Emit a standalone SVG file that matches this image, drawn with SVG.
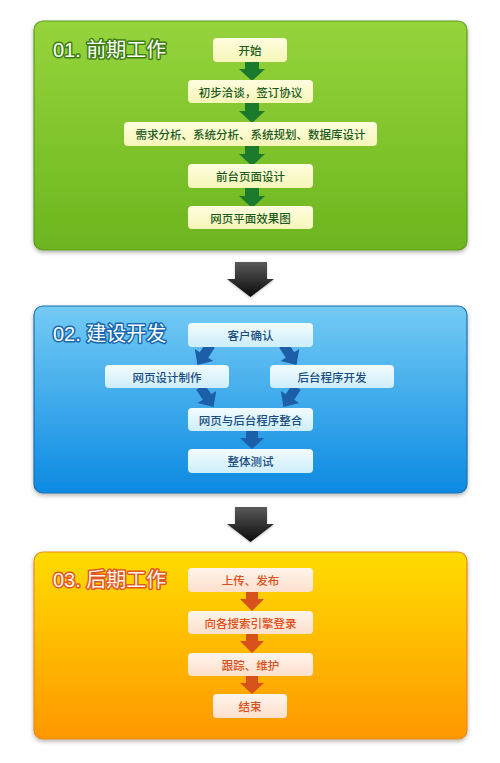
<svg xmlns="http://www.w3.org/2000/svg" width="500" height="763" viewBox="0 0 500 763">
<defs>
<linearGradient id="gGreen" x1="0" y1="0" x2="0" y2="1"><stop offset="0" stop-color="#96d43c"/><stop offset="1" stop-color="#6cb51f"/></linearGradient>
<linearGradient id="gBlue" x1="0" y1="0" x2="0" y2="1"><stop offset="0" stop-color="#74cbf4"/><stop offset="1" stop-color="#0c8ae2"/></linearGradient>
<linearGradient id="gOrange" x1="0" y1="0" x2="0" y2="1"><stop offset="0" stop-color="#ffdc00"/><stop offset="1" stop-color="#ff9800"/></linearGradient>
<linearGradient id="nGreen" x1="0" y1="0" x2="0" y2="1"><stop offset="0" stop-color="#ffffe0"/><stop offset="1" stop-color="#f6f5b8"/></linearGradient>
<linearGradient id="nBlue" x1="0" y1="0" x2="0" y2="1"><stop offset="0" stop-color="#f2fcff"/><stop offset="1" stop-color="#cdeefa"/></linearGradient>
<linearGradient id="nOrange" x1="0" y1="0" x2="0" y2="1"><stop offset="0" stop-color="#fff4ec"/><stop offset="1" stop-color="#fde0cc"/></linearGradient>
<linearGradient id="gBlack" x1="0" y1="0" x2="0" y2="1"><stop offset="0" stop-color="#5a5a5a"/><stop offset="1" stop-color="#0a0a0a"/></linearGradient>
<filter id="sh" x="-10%" y="-10%" width="120%" height="130%"><feDropShadow dx="0" dy="2" stdDeviation="2" flood-color="#000" flood-opacity="0.3"/></filter>
<filter id="shs" x="-20%" y="-20%" width="140%" height="160%"><feDropShadow dx="0" dy="1" stdDeviation="1" flood-color="#000" flood-opacity="0.25"/></filter>
</defs>
<style>
.title{font-family:"Liberation Sans","Noto Sans CJK SC",sans-serif;font-size:20px;fill:#ffffff;stroke-width:3px;paint-order:stroke;stroke-linejoin:round}
.t1{stroke:#3d7d12}
.t2{stroke:#1666b0}
.t3{stroke:#e2561c;fill:#fff2ea}
.nt{font-family:"Noto Sans CJK SC",sans-serif;font-size:11.5px;font-weight:500;text-anchor:middle;dominant-baseline:central}
.n1 rect{fill:url(#nGreen)}
.n1 text{fill:#1d5a1d}
.n2 rect{fill:url(#nBlue)}
.n2 text{fill:#194c80}
.n3 rect{fill:url(#nOrange)}
.n3 text{fill:#e04e18}
.ag{fill:#1c7a2c}
.ab{fill:#1c5ea8}
.ao{fill:#d6521a}
</style>

<!-- panels -->
<g id="panel1">
<rect x="34" y="21" width="433" height="229" rx="9" fill="url(#gGreen)" stroke="#5e9c1c" stroke-width="1.2" filter="url(#sh)"/>
<text class="title t1" x="53" y="57">01. 前期工作</text>
</g>
<g id="panel2">
<rect x="34" y="306" width="433" height="187" rx="9" fill="url(#gBlue)" stroke="#1b6fb0" stroke-width="1.2" filter="url(#sh)"/>
<text class="title t2" x="53" y="341">02. 建设开发</text>
</g>
<g id="panel3">
<rect x="34" y="552" width="433" height="187" rx="9" fill="url(#gOrange)" stroke="#eb8a10" stroke-width="1.2" filter="url(#sh)"/>
<text class="title t3" x="53" y="587">03. 后期工作</text>
</g>

<!-- connectors -->
<g id="connectors">
<!-- green -->
<path class="ag" d="M245,60 h14 v9 h6 l-13,12 l-13,-12 h6 z"/>
<path class="ag" d="M245,102 h14 v9 h6 l-13,12 l-13,-12 h6 z"/>
<path class="ag" d="M245,145 h14 v9 h6 l-13,12 l-13,-12 h6 z"/>
<path class="ag" d="M245,187 h14 v9 h6 l-13,12 l-13,-12 h6 z"/>
<!-- black -->
<path d="M235,262 h32 v17 h7 l-23.5,18 l-23.5,-18 h8 z" fill="url(#gBlack)" filter="url(#shs)"/>
<path d="M235,507 h32 v17 h7 l-23.5,18 l-23.5,-18 h8 z" fill="url(#gBlack)" filter="url(#shs)"/>
<!-- blue -->
<g class="ab">
<path d="M-5,-12 h10 v12 h6 l-11,12 l-11,-12 h6 z" transform="translate(204,355) rotate(33)"/>
<path d="M-5,-12 h10 v12 h6 l-11,12 l-11,-12 h6 z" transform="translate(290,355) rotate(-33)"/>
<path d="M-5,-12 h10 v12 h6 l-11,12 l-11,-12 h6 z" transform="translate(207,397) rotate(-33)"/>
<path d="M-5,-12 h10 v12 h6 l-11,12 l-11,-12 h6 z" transform="translate(290,397) rotate(33)"/>
<path d="M246,430 h12 v8 h6 l-12,11 l-12,-11 h6 z"/>
</g>
<!-- orange -->
<path class="ao" d="M246,591 h12 v8 h6 l-12,12 l-12,-12 h6 z"/>
<path class="ao" d="M246,633 h12 v8 h6 l-12,12 l-12,-12 h6 z"/>
<path class="ao" d="M246,675 h12 v8 h6 l-12,11 l-12,-11 h6 z"/>
</g>

<!-- nodes panel 1 -->
<g id="n-start" class="n1"><rect x="213" y="38" width="74" height="24" rx="4"/><text class="nt" x="250" y="50">开始</text></g>
<g id="n-talk" class="n1"><rect x="188" y="80" width="125" height="23" rx="4"/><text class="nt" x="250.5" y="91.5">初步洽谈，签订协议</text></g>
<g id="n-analysis" class="n1"><rect x="124" y="122" width="253" height="24" rx="4"/><text class="nt" x="250.5" y="134">需求分析、系统分析、系统规划、数据库设计</text></g>
<g id="n-front" class="n1"><rect x="188" y="164" width="125" height="24" rx="4"/><text class="nt" x="250.5" y="176">前台页面设计</text></g>
<g id="n-effect" class="n1"><rect x="188" y="206" width="125" height="23" rx="4"/><text class="nt" x="250.5" y="217.5">网页平面效果图</text></g>

<!-- nodes panel 2 -->
<g id="n-confirm" class="n2"><rect x="188" y="323" width="125" height="24" rx="4"/><text class="nt" x="250.5" y="335">客户确认</text></g>
<g id="n-webdesign" class="n2"><rect x="105" y="365" width="124" height="23" rx="4"/><text class="nt" x="167" y="376.5">网页设计制作</text></g>
<g id="n-backend" class="n2"><rect x="270" y="365" width="124" height="23" rx="4"/><text class="nt" x="332" y="376.5">后台程序开发</text></g>
<g id="n-integrate" class="n2"><rect x="188" y="408" width="125" height="23" rx="4"/><text class="nt" x="250.5" y="419.5">网页与后台程序整合</text></g>
<g id="n-test" class="n2"><rect x="188" y="449" width="125" height="24" rx="4"/><text class="nt" x="250.5" y="461">整体测试</text></g>

<!-- nodes panel 3 -->
<g id="n-upload" class="n3"><rect x="188" y="568" width="125" height="24" rx="4"/><text class="nt" x="250.5" y="580">上传、发布</text></g>
<g id="n-seo" class="n3"><rect x="188" y="611" width="125" height="23" rx="4"/><text class="nt" x="250.5" y="622.5">向各搜索引擎登录</text></g>
<g id="n-maintain" class="n3"><rect x="188" y="653" width="125" height="23" rx="4"/><text class="nt" x="250.5" y="664.5">跟踪、维护</text></g>
<g id="n-end" class="n3"><rect x="213" y="694" width="74" height="24" rx="4"/><text class="nt" x="250" y="706">结束</text></g>
</svg>
